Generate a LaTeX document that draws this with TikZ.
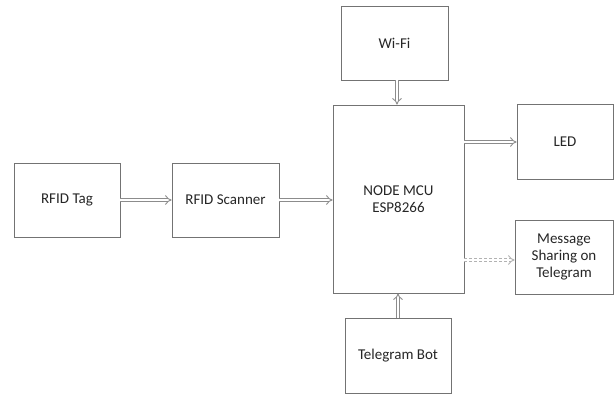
\documentclass[tikz,border=0pt]{standalone}
\usepackage{fontspec}
\setmainfont{Carlito}
\usetikzlibrary{arrows.meta}
\begin{document}
\begin{tikzpicture}[x=1pt,y=-1pt,
  blk/.style={draw=black!55,line width=0.8pt,fill=white,inner sep=0pt,align=center,font=\fontsize{15}{17}\selectfont,text=black!85},
  conn/.style={draw=black!45,line width=0.9pt,double=white,double distance=2.4pt,-{Implies[length=4pt]}},
  dconn/.style={draw=black!30,line width=0.9pt,double=white,double distance=2.4pt,dash pattern=on 3pt off 2pt,-{Implies[length=4pt]}}]
\path[fill=white] (0,0) rectangle (614,394);
\useasboundingbox (0,0) rectangle (614,394);
\node[blk,minimum width=106pt,minimum height=74pt] (tag) at (67,200) {RFID Tag};
\node[blk,minimum width=107pt,minimum height=74pt] (scan) at (225.5,200) {RFID Scanner};
\node[blk,minimum width=107pt,minimum height=74pt] (wifi) at (394.5,43) {Wi-Fi};
\node[blk,minimum width=131pt,minimum height=188pt] (mcu) at (398.5,199) {NODE MCU\\ESP8266};
\node[blk,minimum width=96pt,minimum height=75pt] (led) at (565,142) {LED};
\node[blk,minimum width=98pt,minimum height=74pt] (msg) at (564,257) {Message\\Sharing on\\Telegram};
\node[blk,minimum width=106pt,minimum height=75pt] (bot) at (398,355.5) {Telegram Bot};
\coordinate (ledin) at (led.west);
\coordinate (mcuout) at (mcu.east |- ledin);
\draw[conn] (tag.east) -- (scan.west);
\draw[conn] (scan.east) -- (mcu.west |- scan.east);
\draw[conn] (wifi.south -| 397,0) -- (mcu.north -| 397,0);
\draw[conn] (mcuout) -- (ledin);
\draw[dconn] (mcu.east |- 0,260) -- (msg.west |- 0,260);
\draw[conn] (bot.north) -- (mcu.south -| bot.north);
\end{tikzpicture}
\end{document}
